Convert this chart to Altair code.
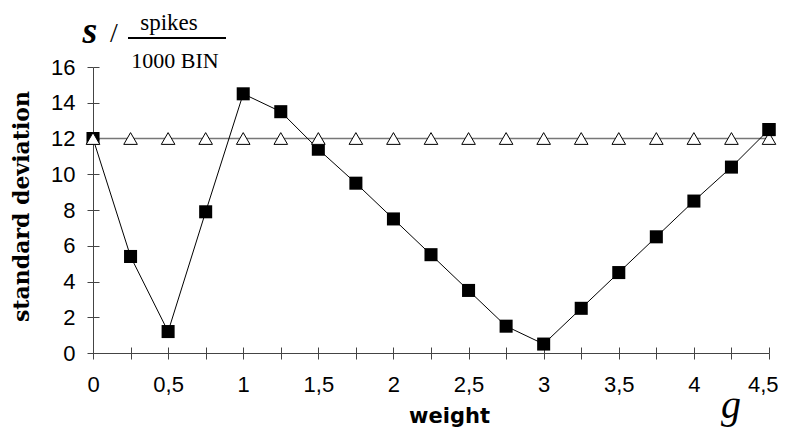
import altair as alt
import pandas as pd

# ---- data ----
weights = [0, 0.25, 0.5, 0.75, 1, 1.25, 1.5, 1.75, 2, 2.25, 2.5, 2.75, 3, 3.25, 3.5, 3.75, 4, 4.25, 4.5]
sd_squares = [12, 5.4, 1.2, 7.9, 14.5, 13.5, 11.4, 9.5, 7.5, 5.5, 3.5, 1.5, 0.5, 2.5, 4.5, 6.5, 8.5, 10.4, 12.5]
sd_triangles = [12, 12, 12, 12, 12, 12, 12, 12, 12, 12, 12, 12, 12, 12, 12, 12, 12, 12, 12]
x_tick_values = weights
y_tick_values = [0, 2, 4, 6, 8, 10, 12, 14, 16]

df = pd.DataFrame({"w": weights, "sq": sd_squares, "tri": sd_triangles})

W, H = 676, 286
AX = "#444444"
LABEL_FONT = "Liberation Sans"

xscale = alt.Scale(domain=[0, 4.5], nice=False, zero=False)
yscale = alt.Scale(domain=[0, 16], nice=False)

x_axis_main = alt.Axis(
    orient="bottom", values=x_tick_values, format=".2~f",
    labelExpr="(datum.value*2)%1==0 ? replace(datum.label,'.',',') : ''",
    labelFont=LABEL_FONT, labelFontSize=22, labelColor="black",
    labelAlign={"condition": {"test": "datum.value >= 4.5", "value": "right"}, "value": "center"},
    labelOffset={"condition": {"test": "datum.value >= 4.5", "value": 9}, "value": 0},
    labelPadding=15, labelOverlap=False, labelFlush=False,
    tickSize=6, tickColor=AX, domainColor=AX, grid=False,
    title="weight", titleFont="DejaVu Sans", titleFontWeight="bold",
    titleFontSize=21, titleColor="black", titleX=356, titleY=69,
    titleBaseline="alphabetic", titleAlign="center",
)
x_axis_inner = alt.Axis(
    orient="bottom", values=x_tick_values, labels=False, domain=False,
    tickSize=6, tickColor=AX, offset=-6, grid=False, title=None,
)
y_axis_main = alt.Axis(
    orient="left", values=y_tick_values, format="d",
    labelFont=LABEL_FONT, labelFontSize=22, labelColor="black",
    labelPadding=12, labelOverlap=False, labelFlush=False,
    tickSize=6, tickColor=AX, domainColor=AX, grid=False,
    title="standard deviation", titleFont="DejaVu Serif", titleFontWeight="bold",
    titleFontSize=22, titleColor="black", titleX=-72, titleY=139,
    titleAngle=270, titleBaseline="middle", titleAlign="center",
)
y_axis_inner = alt.Axis(
    orient="left", values=y_tick_values, labels=False, domain=False,
    tickSize=6, tickColor=AX, offset=-6, grid=False, title=None,
)

base = alt.Chart(df)

tri_line = base.mark_line(color="#777777", strokeWidth=1.5).encode(
    x=alt.X("w:Q", scale=xscale, axis=x_axis_inner),
    y=alt.Y("tri:Q", scale=yscale, axis=y_axis_inner),
)
sq_line = base.mark_line(color="black", strokeWidth=1).encode(
    x=alt.X("w:Q", scale=xscale, axis=x_axis_main),
    y=alt.Y("sq:Q", scale=yscale, axis=y_axis_main),
)
sq_pts = base.mark_point(shape="square", filled=True, size=170, color="black", opacity=1).encode(
    x=alt.X("w:Q", scale=xscale, axis=None),
    y=alt.Y("sq:Q", scale=yscale, axis=None),
)
tri_pts = base.mark_point(shape="triangle-up", filled=True, fill="white", stroke="black",
                          strokeWidth=1, size=185, opacity=1).encode(
    x=alt.X("w:Q", scale=xscale, axis=None),
    y=alt.Y("tri:Q", scale=yscale, axis=None),
)
# in the reference the last square is drawn above its triangle
sq_last = base.transform_filter("datum.w >= 4.5").mark_point(
    shape="square", filled=True, size=170, color="black", opacity=1).encode(
    x=alt.X("w:Q", scale=xscale, axis=None),
    y=alt.Y("sq:Q", scale=yscale, axis=None),
)

one = pd.DataFrame({"a": [0]})
s_txt = alt.Chart(one).mark_text(text="s", font="Liberation Serif", fontStyle="italic",
                                 fontWeight="bold", fontSize=38, align="center",
                                 baseline="alphabetic", color="black").encode(
    x=alt.value(-3), y=alt.value(-24))
slash_txt = alt.Chart(one).mark_text(text="/", font="Liberation Serif", fontSize=28,
                                     align="center", baseline="alphabetic", color="black").encode(
    x=alt.value(21), y=alt.value(-25))
spikes_txt = alt.Chart(one).mark_text(text="spikes", font="Liberation Serif", fontSize=23,
                                      align="center", baseline="alphabetic", color="black").encode(
    x=alt.value(76), y=alt.value(-37))
frac_rule = alt.Chart(one).mark_rule(color="black", strokeWidth=2).encode(
    x=alt.value(35), x2=alt.value(133), y=alt.value(-29))
bin_txt = alt.Chart(one).mark_text(text="1000 BIN", font="Liberation Serif", fontSize=22,
                                   align="center", baseline="alphabetic", color="black").encode(
    x=alt.value(82), y=alt.value(1))
g_txt = alt.Chart(one).mark_text(text="g", font="Liberation Serif", fontStyle="italic",
                                 fontSize=40, align="center", baseline="alphabetic",
                                 color="black").encode(
    x=alt.value(638), y=alt.value(351))

chart = alt.layer(
    tri_line, sq_line, sq_pts, tri_pts, sq_last,
    s_txt, slash_txt, spikes_txt, frac_rule, bin_txt, g_txt,
).resolve_axis(x="independent", y="independent").properties(
    width=W, height=H,
    autosize=alt.AutoSizeParams(type="none"),
    padding={"left": 85, "top": 59, "right": 9, "bottom": 75},
    background="white",
).configure_view(stroke=None)

chart.save("out.html", embed_options={"renderer": "svg", "actions": False})
